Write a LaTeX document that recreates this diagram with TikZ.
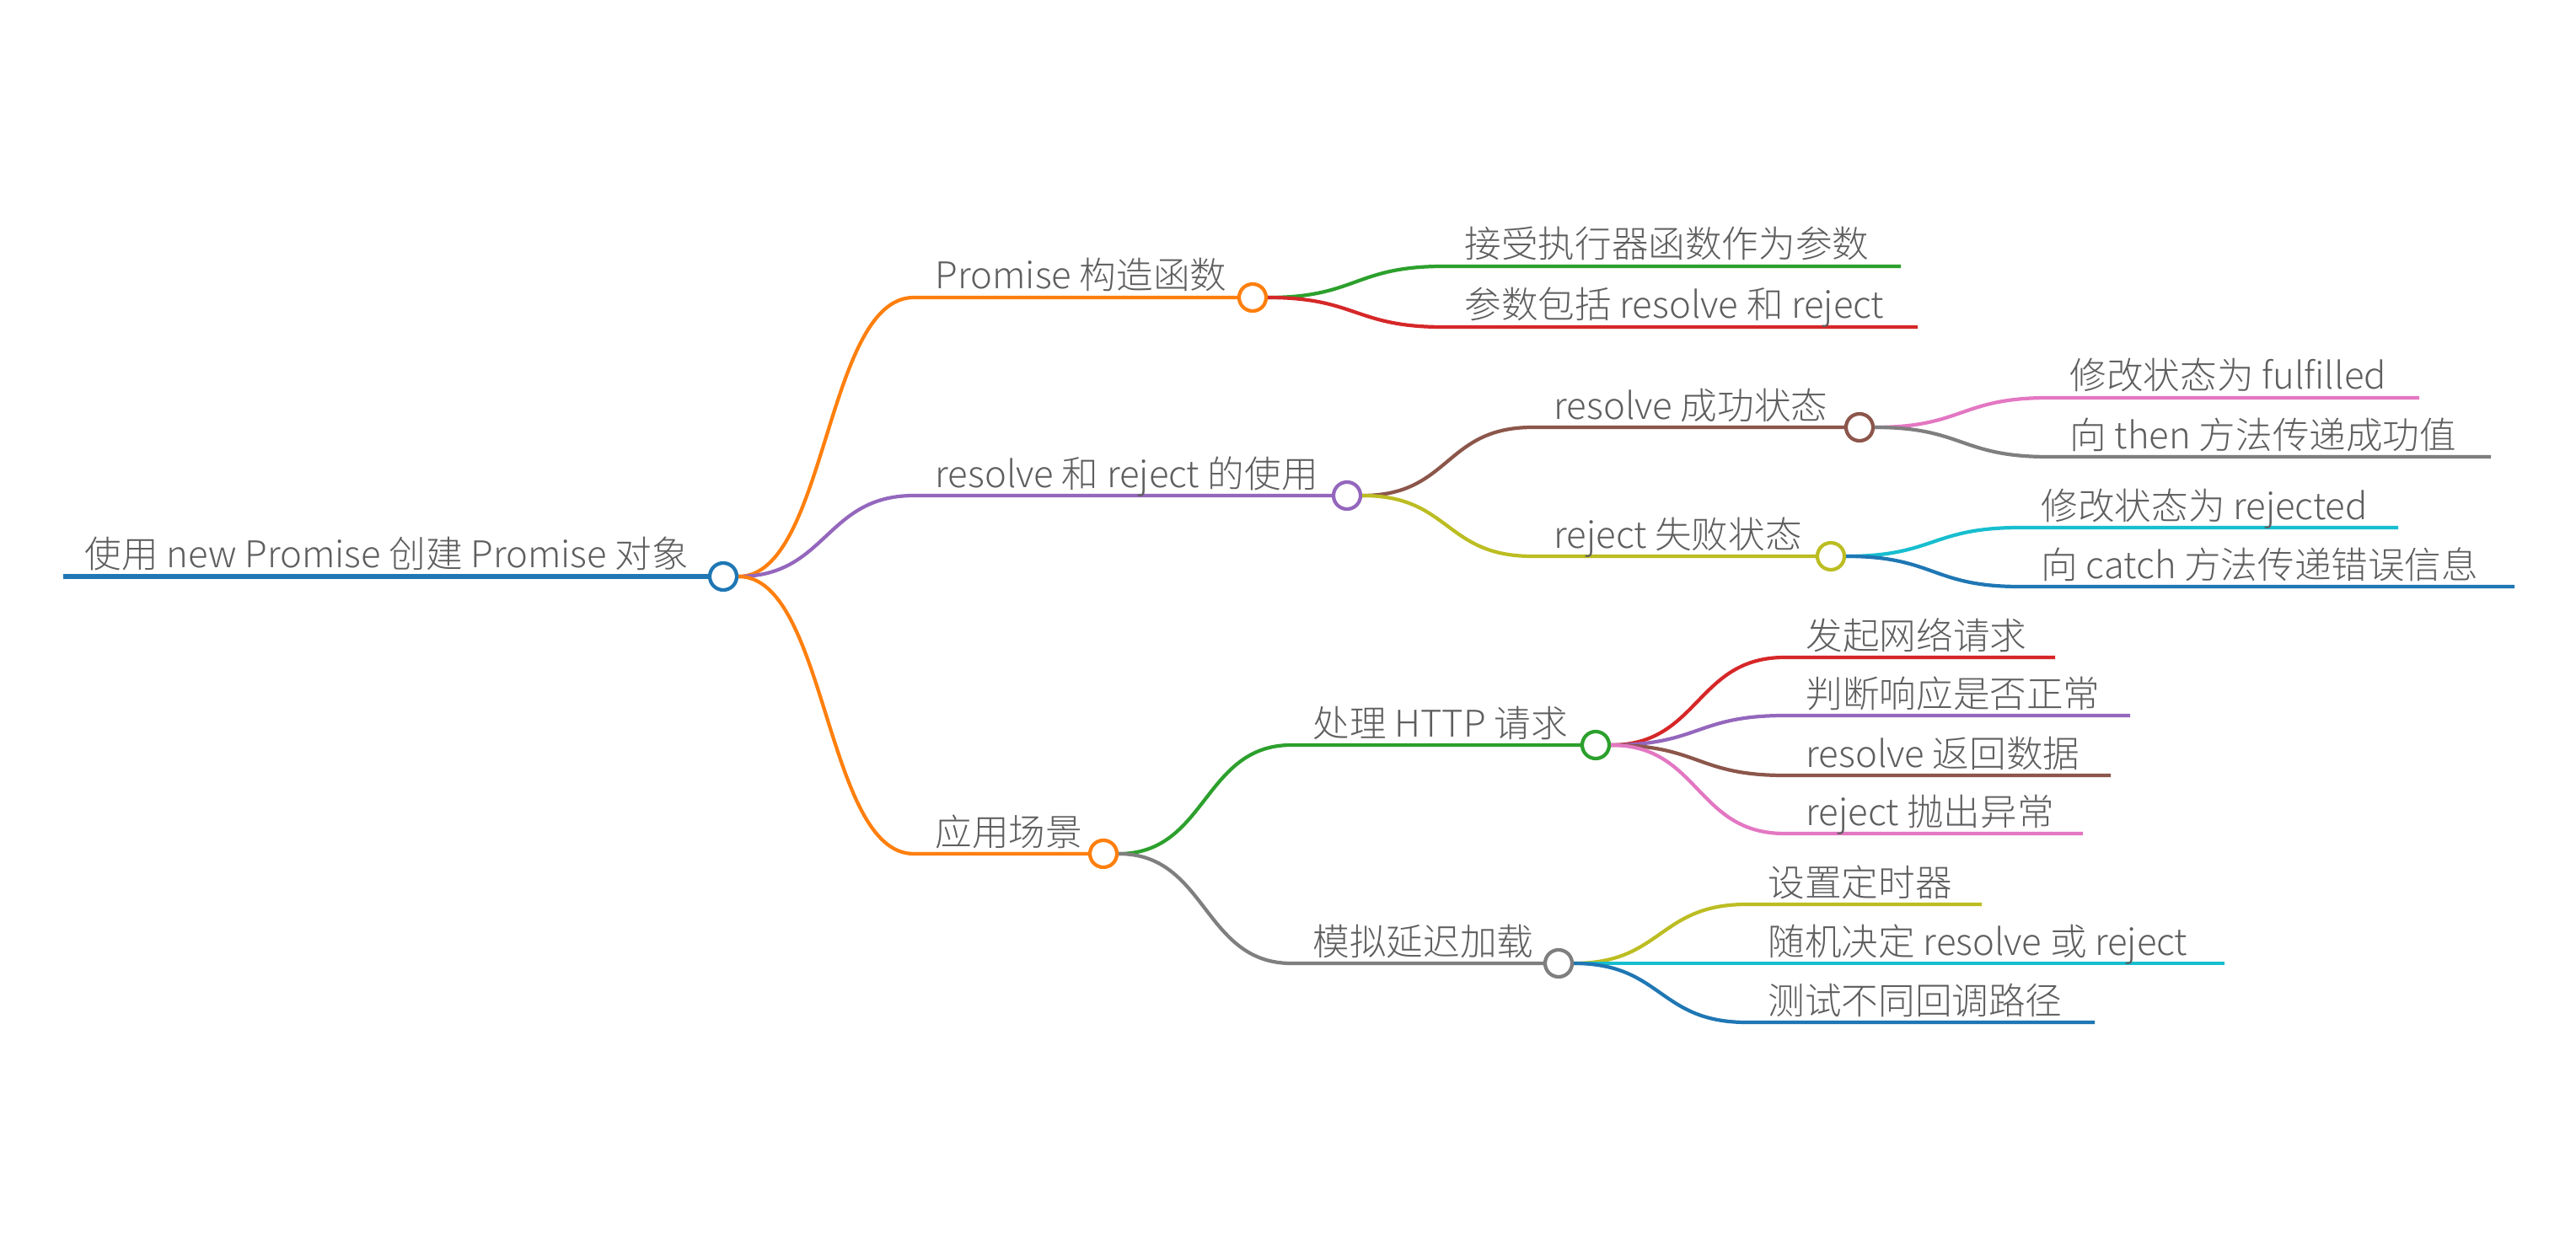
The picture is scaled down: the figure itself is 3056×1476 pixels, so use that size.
\documentclass[tikz,border=0pt]{standalone}
\usepackage{fontspec}
\IfFontExistsTF{Noto Sans CJK SC Light}{\setmainfont{Noto Sans CJK SC Light}}{\setmainfont{Noto Sans CJK SC}}
\definecolor{mmblue}{HTML}{1F77B4}
\definecolor{mmorange}{HTML}{FF7F0E}
\definecolor{mmgreen}{HTML}{2CA02C}
\definecolor{mmred}{HTML}{D62728}
\definecolor{mmpurple}{HTML}{9467BD}
\definecolor{mmbrown}{HTML}{8C564B}
\definecolor{mmpink}{HTML}{E377C2}
\definecolor{mmgray}{HTML}{7F7F7F}
\definecolor{mmolive}{HTML}{BCBD22}
\definecolor{mmcyan}{HTML}{17BECF}
\definecolor{mmtext}{HTML}{5E5E5E}
\tikzset{
  branch/.style={ line width=1.2pt },
  hub/.style={ circle, draw=#1, fill=white, line width=1.2pt, minimum size=0.32cm, inner sep=0pt },
  topic/.style={ anchor=base west, inner sep=0pt, text=mmtext, font=\fontsize{12.4pt}{14pt}\selectfont },
}
\begin{document}
\begin{tikzpicture}[ x=0.01cm, y=-0.01cm ]
  \useasboundingbox (0,0) rectangle (3056,1476);

  \coordinate (root-s) at (75,684);
  \node [ hub=mmblue ] (root) at (858,684) {};
  \draw [ branch, mmblue, line width=1.7pt ] (root-s) -- (root);
  \node [ topic ] at (100,673) {使用 new Promise 创建 Promise 对象};

  \coordinate (ctor-s) at (1084,353);
  \node [ hub=mmorange ] (ctor) at (1486,353) {};
  \draw [ branch, mmorange ] (root.east) .. controls +(105,0) and +(-105,0) .. (ctor-s) -- (ctor);
  \node [ topic ] at (1109,343) {Promise 构造函数};

  \coordinate (usage-s) at (1084,588);
  \node [ hub=mmpurple ] (usage) at (1598,588) {};
  \draw [ branch, mmpurple ] (root.east) .. controls +(105,0) and +(-105,0) .. (usage-s) -- (usage);
  \node [ topic ] at (1109,578) {resolve 和 reject 的使用};

  \coordinate (scene-s) at (1084,1013);
  \node [ hub=mmorange ] (scene) at (1309,1013) {};
  \draw [ branch, mmorange ] (root.east) .. controls +(105,0) and +(-105,0) .. (scene-s) -- (scene);
  \node [ topic ] at (1109,1003) {应用场景};

  \coordinate (accept-s) at (1712,316);
  \coordinate (accept-e) at (2255,316);
  \draw [ branch, mmgreen ] (ctor.east) .. controls +(105,0) and +(-105,0) .. (accept-s) -- (accept-e);
  \node [ topic ] at (1737,306) {接受执行器函数作为参数};

  \coordinate (params-s) at (1712,388);
  \coordinate (params-e) at (2275,388);
  \draw [ branch, mmred ] (ctor.east) .. controls +(105,0) and +(-105,0) .. (params-s) -- (params-e);
  \node [ topic ] at (1737,378) {参数包括 resolve 和 reject};

  \coordinate (success-s) at (1818,507);
  \node [ hub=mmbrown ] (success) at (2206,507) {};
  \draw [ branch, mmbrown ] (usage.east) .. controls +(105,0) and +(-105,0) .. (success-s) -- (success);
  \node [ topic ] at (1843,497) {resolve 成功状态};

  \coordinate (fail-s) at (1818,660);
  \node [ hub=mmolive ] (fail) at (2172,660) {};
  \draw [ branch, mmolive ] (usage.east) .. controls +(105,0) and +(-105,0) .. (fail-s) -- (fail);
  \node [ topic ] at (1843,650) {reject 失败状态};

  \coordinate (fulfilled-s) at (2430,472);
  \coordinate (fulfilled-e) at (2870,472);
  \draw [ branch, mmpink ] (success.east) .. controls +(105,0) and +(-105,0) .. (fulfilled-s) -- (fulfilled-e);
  \node [ topic ] at (2455,462) {修改状态为 fulfilled};

  \coordinate (then-s) at (2430,542);
  \coordinate (then-e) at (2955,542);
  \draw [ branch, mmgray ] (success.east) .. controls +(105,0) and +(-105,0) .. (then-s) -- (then-e);
  \node [ topic ] at (2455,532) {向 then 方法传递成功值};

  \coordinate (rejected-s) at (2396,626);
  \coordinate (rejected-e) at (2845,626);
  \draw [ branch, mmcyan ] (fail.east) .. controls +(105,0) and +(-105,0) .. (rejected-s) -- (rejected-e);
  \node [ topic ] at (2421,616) {修改状态为 rejected};

  \coordinate (catch-s) at (2396,696);
  \coordinate (catch-e) at (2983,696);
  \draw [ branch, mmblue ] (fail.east) .. controls +(105,0) and +(-105,0) .. (catch-s) -- (catch-e);
  \node [ topic ] at (2421,686) {向 catch 方法传递错误信息};

  \coordinate (http-s) at (1532,884);
  \node [ hub=mmgreen ] (http) at (1893,884) {};
  \draw [ branch, mmgreen ] (scene.east) .. controls +(105,0) and +(-105,0) .. (http-s) -- (http);
  \node [ topic ] at (1557,874) {处理 HTTP 请求};

  \coordinate (delay-s) at (1532,1143);
  \node [ hub=mmgray ] (delay) at (1849,1143) {};
  \draw [ branch, mmgray ] (scene.east) .. controls +(105,0) and +(-105,0) .. (delay-s) -- (delay);
  \node [ topic ] at (1557,1133) {模拟延迟加载};

  \coordinate (request-s) at (2117,780);
  \coordinate (request-e) at (2438,780);
  \draw [ branch, mmred ] (http.east) .. controls +(105,0) and +(-105,0) .. (request-s) -- (request-e);
  \node [ topic ] at (2142,770) {发起网络请求};

  \coordinate (check-s) at (2117,849);
  \coordinate (check-e) at (2527,849);
  \draw [ branch, mmpurple ] (http.east) .. controls +(105,0) and +(-105,0) .. (check-s) -- (check-e);
  \node [ topic ] at (2142,839) {判断响应是否正常};

  \coordinate (resolve-s) at (2117,920);
  \coordinate (resolve-e) at (2504,920);
  \draw [ branch, mmbrown ] (http.east) .. controls +(105,0) and +(-105,0) .. (resolve-s) -- (resolve-e);
  \node [ topic ] at (2142,910) {resolve 返回数据};

  \coordinate (reject-s) at (2117,989);
  \coordinate (reject-e) at (2471,989);
  \draw [ branch, mmpink ] (http.east) .. controls +(105,0) and +(-105,0) .. (reject-s) -- (reject-e);
  \node [ topic ] at (2142,979) {reject 抛出异常};

  \coordinate (timer-s) at (2072,1073);
  \coordinate (timer-e) at (2351,1073);
  \draw [ branch, mmolive ] (delay.east) .. controls +(105,0) and +(-105,0) .. (timer-s) -- (timer-e);
  \node [ topic ] at (2097,1063) {设置定时器};

  \coordinate (random-s) at (2072,1143);
  \coordinate (random-e) at (2639,1143);
  \draw [ branch, mmcyan ] (delay.east) -- (random-s) -- (random-e);
  \node [ topic ] at (2097,1133) {随机决定 resolve 或 reject};

  \coordinate (paths-s) at (2072,1213);
  \coordinate (paths-e) at (2485,1213);
  \draw [ branch, mmblue ] (delay.east) .. controls +(105,0) and +(-105,0) .. (paths-s) -- (paths-e);
  \node [ topic ] at (2097,1203) {测试不同回调路径};
\end{tikzpicture}
\end{document}
